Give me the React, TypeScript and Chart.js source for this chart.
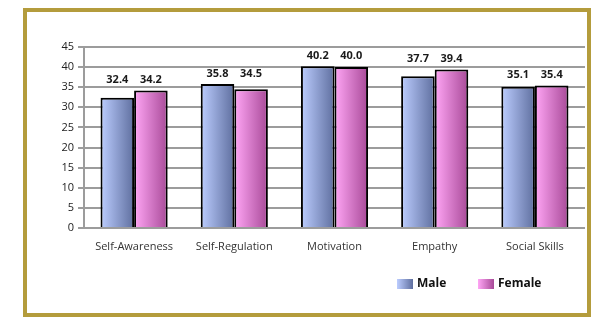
import React, { useEffect, useRef } from "react";
import { Chart, registerables } from "chart.js";

Chart.register(...registerables);

const categories = ["Self-Awareness", "Self-Regulation", "Motivation", "Empathy", "Social Skills"];
const maleValues = [32.4, 35.8, 40.2, 37.7, 35.1];
const femaleValues = [34.2, 34.5, 40.0, 39.4, 35.4];
const seriesNames = ["Male", "Female"];
const yMax = 45;
const yStep = 5;

const FONT = "'Open Sans', 'DejaVu Sans', sans-serif";
const gradStops = [
  ["#bccdff", "#5f6f9f"],
  ["#ffa6f5", "#a84a98"],
];

const gradientPlugin = {
  id: "barGradient",
  beforeDatasetsDraw(chart: any) {
    const ctx = chart.ctx;
    chart.data.datasets.forEach((_: any, di: number) => {
      const meta = chart.getDatasetMeta(di);
      meta.data.forEach((el: any) => {
        const left = el.x - el.width / 2;
        const right = el.x + el.width / 2;
        const g = ctx.createLinearGradient(left, 0, right, 0);
        g.addColorStop(0, gradStops[di][0]);
        g.addColorStop(1, gradStops[di][1]);
        el.options.backgroundColor = g;
      });
    });
  },
};

const labelsPlugin = {
  id: "valueLabels",
  afterDatasetsDraw(chart: any) {
    const ctx = chart.ctx;
    const m0 = chart.getDatasetMeta(0);
    const m1 = chart.getDatasetMeta(1);
    ctx.save();
    ctx.font = `bold 11px ${FONT}`;
    ctx.fillStyle = "#1a1a1a";
    ctx.textAlign = "center";
    ctx.textBaseline = "bottom";
    categories.forEach((_, i) => {
      const a = m0.data[i];
      const b = m1.data[i];
      const top = Math.min(a.y, b.y);
      const y = top - 5;
      ctx.fillText(maleValues[i].toFixed(1), a.x, y);
      ctx.fillText(femaleValues[i].toFixed(1), b.x, y);
    });
    ctx.restore();
  },
  afterDraw(chart: any) {
    const ctx = chart.ctx;
    ctx.save();
    const items = [
      { x: 397, name: seriesNames[0], di: 0 },
      { x: 478, name: seriesNames[1], di: 1 },
    ];
    const y = 284;
    items.forEach((it) => {
      const g = ctx.createLinearGradient(it.x, 0, it.x + 16, 0);
      g.addColorStop(0, gradStops[it.di][0]);
      g.addColorStop(1, gradStops[it.di][1]);
      ctx.fillStyle = g;
      ctx.fillRect(it.x, y - 5, 16, 10);
      ctx.font = `bold 12px ${FONT}`;
      ctx.fillStyle = "#111";
      ctx.textAlign = "left";
      ctx.textBaseline = "middle";
      ctx.fillText(it.name, it.x + 20, y);
    });
    ctx.restore();
  },
};

export default function App() {
  const ref = useRef<HTMLCanvasElement>(null);
  useEffect(() => {
    document.body.style.margin = "0";
    const bg = (di: number) => (c: any) => gradStops[di][c.dataIndex >= 0 ? 1 : 1];
    const chart = new Chart(ref.current!, {
      type: "bar",
      data: {
        labels: categories,
        datasets: [
          {
            label: seriesNames[0],
            data: maleValues,
            backgroundColor: bg(0),
            borderColor: "#000",
            borderWidth: 2,
            borderSkipped: "bottom",
            barPercentage: 1,
            categoryPercentage: 0.67,
          },
          {
            label: seriesNames[1],
            data: femaleValues,
            backgroundColor: bg(1),
            borderColor: "#000",
            borderWidth: 2,
            borderSkipped: "bottom",
            barPercentage: 1,
            categoryPercentage: 0.67,
          },
        ],
      },
      options: {
        animation: false,
        responsive: false,
        maintainAspectRatio: false,
        layout: { padding: { left: 30, right: 25, top: 47, bottom: 69 } },
        plugins: { legend: { display: false }, tooltip: { enabled: false } },
        scales: {
          x: {
            grid: { display: false },
            border: { display: false },
            ticks: { color: "#333", font: { family: FONT, size: 11 }, padding: 4, maxRotation: 0 },
            afterFit(scale: any) {
              scale.height = 30;
            },
          },
          y: {
            min: 0,
            max: yMax,
            ticks: { stepSize: yStep, color: "#222", font: { family: FONT, size: 11 }, padding: 4 },
            grid: { color: "#9c9c9c", lineWidth: 2, tickLength: 6, drawTicks: true },
            border: { color: "#9c9c9c", width: 2 },
            afterFit(scale: any) {
              scale.width = 54;
            },
          },
        },
      },
      plugins: [gradientPlugin, labelsPlugin],
    });
    return () => chart.destroy();
  }, []);
  return (
    <div style={{ position: "relative", width: 610, height: 327, background: "#fff" }}>
      <canvas ref={ref} width={610} height={327} style={{ position: "absolute", left: 0, top: 0 }} />
      <div
        style={{
          position: "absolute",
          left: 23,
          top: 8,
          width: 560,
          height: 301,
          border: "4px solid #b49c3c",
          pointerEvents: "none",
        }}
      />
    </div>
  );
}
